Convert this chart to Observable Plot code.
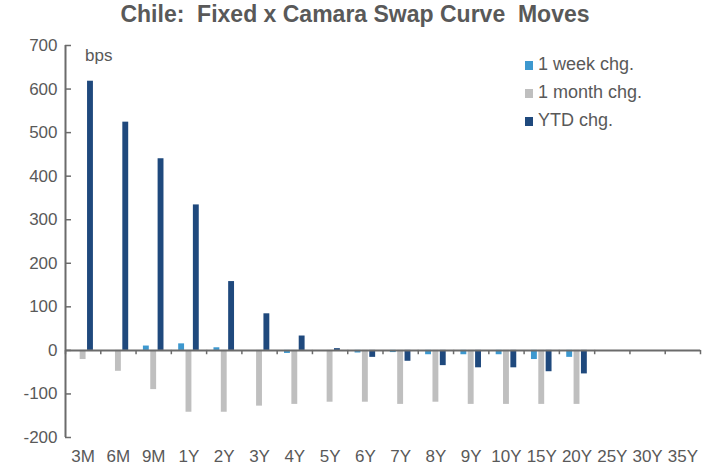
<!DOCTYPE html>
<html>
<head>
<meta charset="utf-8">
<script src="https://cdn.jsdelivr.net/npm/d3@7"></script>
<script src="https://cdn.jsdelivr.net/npm/@observablehq/plot@0.6"></script>
<style>
  body { margin: 0; background: #fff; }
  #wrap { position: relative; width: 710px; height: 468px; font-family: "Liberation Sans", Arial, sans-serif; }
  #title { position: absolute; left: 0; top: 1px; width: 710px; text-align: center; font-weight: bold; font-size: 23px; color: #595959; white-space: pre; }
  #unit { position: absolute; left: 85px; top: 46px; font-size: 17px; color: #595959; }
  #legend { position: absolute; left: 525px; top: 52px; font-size: 18px; color: #595959; }
  #legend div { height: 28px; line-height: 24px; white-space: nowrap; }
  #legend span.sw { display: inline-block; width: 8px; height: 9px; margin-right: 5px; }
</style>
</head>
<body>
<div id="wrap">
  <div id="chart"></div>
  <div id="title">Chile:  Fixed x Camara Swap Curve  Moves</div>
  <div id="unit">bps</div>
  <div id="legend"></div>
</div>
<script>
const categories = ["3M","6M","9M","1Y","2Y","3Y","4Y","5Y","6Y","7Y","8Y","9Y","10Y","15Y","20Y","25Y","30Y","35Y"];
const seriesNames = ["1 week chg.","1 month chg.","YTD chg."];
const seriesColors = ["#3D98CF","#BFBFBF","#1F497D"];
const week  = [0, 0, 10, 15, 6, 0, -7, 0, -6, -5, -10, -10, -10, -21, -16, null, null, null];
const month = [-21, -48, -90, -142, -142, -128, -124, -119, -119, -124, -119, -124, -124, -124, -124, null, null, null];
const ytd   = [618, 524, 440, 334, 158, 84, 33, 4, -16, -25, -35, -40, -40, -49, -54, null, null, null];
const yTicks = [-200, -100, 0, 100, 200, 300, 400, 500, 600, 700];

const seriesValues = [week, month, ytd];
const rows = [];
categories.forEach((c, i) => {
  seriesValues.forEach((vals, k) => {
    if (vals[i] != null) rows.push({cat: c, i, k, series: seriesNames[k], value: vals[i]});
  });
});

const step = 0.2083, bw = 0.1667;
const chart = Plot.plot({
  width: 710,
  height: 468,
  marginLeft: 65,
  marginRight: 10,
  marginTop: 45,
  marginBottom: 31,
  style: {fontFamily: "Liberation Sans, Arial, sans-serif", fontSize: "17px", color: "#595959", background: "#fff"},
  x: {domain: [0, categories.length], ticks: categories.map((_, i) => i + 0.5), tickFormat: v => categories[Math.floor(v)], tickSize: 0, tickPadding: 12, label: null},
  y: {domain: [-200, 700], ticks: yTicks, tickFormat: d => String(d), tickSize: 0, tickPadding: 8, label: null},
  color: {domain: seriesNames, range: seriesColors},
  marks: [
    Plot.rect(rows, {
      x1: d => d.i + step * (d.k + 1),
      x2: d => d.i + step * (d.k + 1) + bw,
      y1: () => 0, y2: "value", fill: "series"
    }),
    Plot.ruleY([0], {stroke: "#6b6b6b", strokeWidth: 2}),
    Plot.ruleX(d3.range(0, categories.length + 1), {y1: 0, y2: -10, stroke: "#6b6b6b", strokeWidth: 1.5}),
    Plot.ruleX([0], {y1: -200, y2: 700, stroke: "#6b6b6b", strokeWidth: 2}),
    Plot.ruleY(yTicks, {x1: 0, x2: 0.17, stroke: "#6b6b6b", strokeWidth: 1.5})
  ]
});
document.getElementById("chart").appendChild(chart);

const legend = document.getElementById("legend");
seriesNames.forEach((n, k) => {
  const row = document.createElement("div");
  row.innerHTML = `<span class="sw" style="background:${seriesColors[k]}"></span>${n}`;
  legend.appendChild(row);
});
</script>
</body>
</html>
